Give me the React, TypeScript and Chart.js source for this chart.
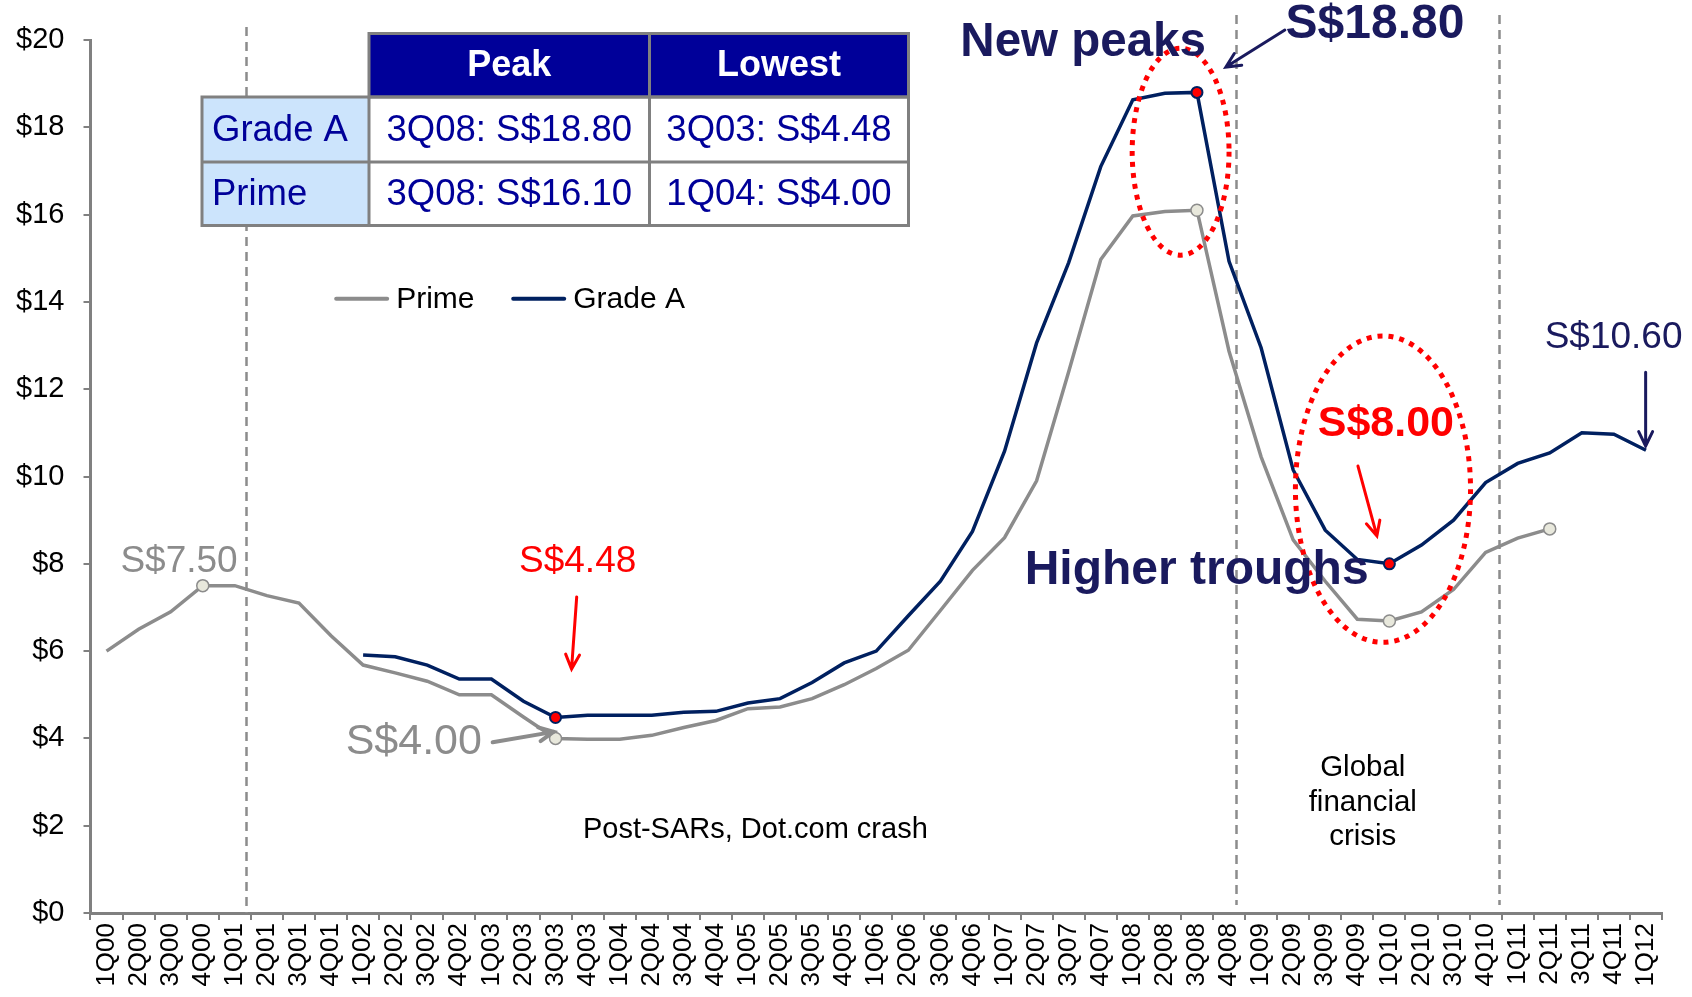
import React, { useEffect, useRef } from 'react';
import { Chart, registerables } from 'chart.js';

Chart.register(...registerables);

const FONT = '"Liberation Sans", Arial, Helvetica, sans-serif';

const quarters = [
  '1Q00', '2Q00', '3Q00', '4Q00', '1Q01', '2Q01', '3Q01', '4Q01',
  '1Q02', '2Q02', '3Q02', '4Q02', '1Q03', '2Q03', '3Q03', '4Q03',
  '1Q04', '2Q04', '3Q04', '4Q04', '1Q05', '2Q05', '3Q05', '4Q05',
  '1Q06', '2Q06', '3Q06', '4Q06', '1Q07', '2Q07', '3Q07', '4Q07',
  '1Q08', '2Q08', '3Q08', '4Q08', '1Q09', '2Q09', '3Q09', '4Q09',
  '1Q10', '2Q10', '3Q10', '4Q10', '1Q11', '2Q11', '3Q11', '4Q11',
  '1Q12',
];

const primeRents: (number | null)[] = [
  6.0, 6.5, 6.9, 7.5, 7.5, 7.27, 7.1, 6.35,
  5.68, 5.5, 5.31, 5.0, 5.0, 4.49, 4.0, 3.98,
  3.98, 4.07, 4.25, 4.41, 4.68, 4.72, 4.91, 5.23,
  5.6, 6.02, 6.93, 7.85, 8.6, 9.9, 12.4, 14.97,
  15.97, 16.07, 16.1, 12.87, 10.45, 8.55, 7.6, 6.73,
  6.69, 6.9, 7.41, 8.26, 8.59, 8.8, null, null,
  null,
];

const gradeARents: (number | null)[] = [
  null, null, null, null, null, null, null, null,
  5.91, 5.87, 5.68, 5.36, 5.36, 4.85, 4.48, 4.53,
  4.53, 4.53, 4.6, 4.62, 4.81, 4.91, 5.28, 5.73,
  6.0, 6.81, 7.6, 8.74, 10.58, 13.06, 14.9, 17.1,
  18.63, 18.78, 18.8, 14.93, 12.95, 10.15, 8.77, 8.1,
  8.0, 8.43, 9.0, 9.86, 10.3, 10.54, 11.0, 10.97,
  10.6,
];

const primeMarkers = [3, 14, 34, 40, 45];
const gradeAMarkers = [14, 34, 40];

// vertical dashed separators (in category index units)
const periodBreaks = [4.35, 35.22, 43.42];

// summary table
const tableHeaders = ['Peak', 'Lowest'];
const tableRowNames = ['Grade A', 'Prime'];
const tablePeak = ['3Q08: S$18.80', '3Q08: S$16.10'];
const tableLowest = ['3Q03: S$4.48', '1Q04: S$4.00'];

const PRIME_COLOR = '#8c8c8c';
const GRADEA_COLOR = '#002060';
const NAVY_TEXT = '#1a1a5e';
const RED = '#ff0000';

type Txt = { text: string; x: number; y: number; color: string; size: number; bold?: boolean };
const annotationTexts: Txt[] = [
  { text: 'S$7.50', x: 2.26, y: 8.04, color: PRIME_COLOR, size: 37 },
  { text: 'S$4.48', x: 14.69, y: 8.04, color: RED, size: 37 },
  { text: 'S$4.00', x: 9.58, y: 3.91, color: PRIME_COLOR, size: 43 },
  { text: 'Post-SARs, Dot.com crash', x: 20.23, y: 1.9, color: '#000000', size: 29 },
  { text: 'Global', x: 39.17, y: 3.32, color: '#000000', size: 29.5 },
  { text: 'financial', x: 39.17, y: 2.52, color: '#000000', size: 29.5 },
  { text: 'crisis', x: 39.17, y: 1.74, color: '#000000', size: 29.5 },
  { text: 'New peaks', x: 30.45, y: 19.93, color: NAVY_TEXT, size: 47.5, bold: true },
  { text: 'S$18.80', x: 39.55, y: 20.34, color: NAVY_TEXT, size: 48, bold: true },
  { text: 'Higher troughs', x: 33.99, y: 7.85, color: NAVY_TEXT, size: 48, bold: true },
  { text: 'S$8.00', x: 39.89, y: 11.2, color: RED, size: 43, bold: true },
  { text: 'S$10.60', x: 46.99, y: 13.17, color: NAVY_TEXT, size: 37 },
];

type Arrow = { x1: number; y1: number; x2: number; y2: number; color: string; width: number };
const annotationArrows: Arrow[] = [
  { x1: 14.66, y1: 7.24, x2: 14.5, y2: 5.59, color: RED, width: 3 },
  { x1: 12.04, y1: 3.91, x2: 13.94, y2: 4.15, color: PRIME_COLOR, width: 4 },
  { x1: 36.74, y1: 20.23, x2: 34.9, y2: 19.38, color: NAVY_TEXT, width: 3 },
  { x1: 39.02, y1: 10.24, x2: 39.61, y2: 8.64, color: RED, width: 3 },
  { x1: 47.99, y1: 12.39, x2: 47.99, y2: 10.7, color: NAVY_TEXT, width: 3 },
];

type Ell = { x: number; y: number; rx: number; ry: number };
const highlightEllipses: Ell[] = [
  { x: 33.49, y: 17.44, rx: 1.51, ry: 2.37 },
  { x: 39.8, y: 9.71, rx: 2.73, ry: 3.51 },
];

const overlayPlugin = {
  id: 'overlayPlugin',
  beforeDatasetsDraw(chart: any) {
    const { ctx, chartArea, scales } = chart;
    const x = scales.x;
    ctx.save();
    ctx.strokeStyle = '#8c8c8c';
    ctx.lineWidth = 2.5;
    ctx.setLineDash([9, 6]);
    periodBreaks.forEach((v, i) => {
      const px = Math.round(x.getPixelForValue(v)) + 0.5;
      const top = i === 0 ? chartArea.top - 13 : chartArea.top - 25;
      const bottom = i === 0 ? chartArea.bottom : chartArea.bottom - 8;
      ctx.beginPath();
      ctx.moveTo(px, top);
      ctx.lineTo(px, bottom);
      ctx.stroke();
    });
    ctx.restore();
  },
  afterDatasetsDraw(chart: any) {
    const { ctx, scales } = chart;
    const x = scales.x;
    const y = scales.y;
    const px = (v: number) => x.getPixelForValue(v);
    const py = (v: number) => y.getPixelForValue(v);
    const unitX = px(1) - px(0);
    const unitY = py(0) - py(1);

    ctx.save();
    // dotted ellipses
    ctx.strokeStyle = RED;
    ctx.lineWidth = 5;
    ctx.setLineDash([5, 6]);
    highlightEllipses.forEach((e) => {
      ctx.beginPath();
      ctx.ellipse(px(e.x), py(e.y), e.rx * unitX, e.ry * unitY, 0, 0, Math.PI * 2);
      ctx.stroke();
    });
    ctx.setLineDash([]);

    // arrows
    annotationArrows.forEach((a) => {
      const x1 = px(a.x1), y1 = py(a.y1), x2 = px(a.x2), y2 = py(a.y2);
      ctx.strokeStyle = a.color;
      ctx.lineWidth = a.width;
      ctx.lineCap = 'round';
      ctx.beginPath();
      ctx.moveTo(x1, y1);
      ctx.lineTo(x2, y2);
      const ang = Math.atan2(y2 - y1, x2 - x1);
      const hl = 16;
      ctx.moveTo(x2 - hl * Math.cos(ang - 0.45), y2 - hl * Math.sin(ang - 0.45));
      ctx.lineTo(x2, y2);
      ctx.lineTo(x2 - hl * Math.cos(ang + 0.45), y2 - hl * Math.sin(ang + 0.45));
      ctx.stroke();
    });

    // texts
    ctx.textAlign = 'center';
    ctx.textBaseline = 'middle';
    annotationTexts.forEach((t) => {
      ctx.font = `${t.bold ? 'bold ' : ''}${t.size}px ${FONT}`;
      ctx.fillStyle = t.color;
      ctx.fillText(t.text, px(t.x), py(t.y));
    });

    // legend
    const legendY = py(14.07);
    const legendItems = [
      { label: 'Prime', color: PRIME_COLOR, x: 7.16 },
      { label: 'Grade A', color: GRADEA_COLOR, x: 12.68 },
    ];
    ctx.font = `30px ${FONT}`;
    ctx.textAlign = 'left';
    legendItems.forEach((it) => {
      const lx = px(it.x);
      ctx.strokeStyle = it.color;
      ctx.lineWidth = 4;
      ctx.lineCap = 'round';
      ctx.beginPath();
      ctx.moveTo(lx, legendY);
      ctx.lineTo(lx + 51, legendY);
      ctx.stroke();
      ctx.fillStyle = '#000000';
      ctx.fillText(it.label, lx + 60, legendY + 1);
    });
    ctx.restore();
  },
  afterDraw(chart: any) {
    const { ctx } = chart;
    ctx.save();
    const colX = [202, 369, 649.5, 908.5];
    const rowY = [33.5, 97, 162, 225.5];
    // header
    ctx.fillStyle = '#000099';
    ctx.fillRect(colX[1], rowY[0], colX[3] - colX[1], rowY[1] - rowY[0]);
    ctx.fillStyle = '#cce4fc';
    ctx.fillRect(colX[0], rowY[1], colX[1] - colX[0], rowY[3] - rowY[1]);
    ctx.fillStyle = '#ffffff';
    ctx.fillRect(colX[1], rowY[1], colX[3] - colX[1], rowY[3] - rowY[1]);
    ctx.strokeStyle = '#808080';
    ctx.lineWidth = 3;
    ctx.strokeRect(colX[1], rowY[0], colX[3] - colX[1], rowY[1] - rowY[0]);
    ctx.strokeRect(colX[0], rowY[1], colX[3] - colX[0], rowY[3] - rowY[1]);
    ctx.beginPath();
    ctx.moveTo(colX[2], rowY[0]);
    ctx.lineTo(colX[2], rowY[3]);
    ctx.moveTo(colX[1], rowY[1]);
    ctx.lineTo(colX[1], rowY[3]);
    ctx.moveTo(colX[0], rowY[2]);
    ctx.lineTo(colX[3], rowY[2]);
    ctx.stroke();

    ctx.textBaseline = 'middle';
    ctx.textAlign = 'center';
    ctx.font = `bold 36px ${FONT}`;
    ctx.fillStyle = '#ffffff';
    tableHeaders.forEach((h, i) => {
      ctx.fillText(h, (colX[i + 1] + colX[i + 2]) / 2, (rowY[0] + rowY[1]) / 2 + 1);
    });
    ctx.font = `36.5px ${FONT}`;
    ctx.fillStyle = '#000099';
    tableRowNames.forEach((name, r) => {
      const cy = (rowY[r + 1] + rowY[r + 2]) / 2 + 1;
      ctx.textAlign = 'left';
      ctx.fillText(name, colX[0] + 10, cy);
      ctx.textAlign = 'center';
      ctx.fillText(tablePeak[r], (colX[1] + colX[2]) / 2, cy);
      ctx.fillText(tableLowest[r], (colX[2] + colX[3]) / 2, cy);
    });
    ctx.restore();
  },
};

export default function App() {
  const canvasRef = useRef<HTMLCanvasElement | null>(null);

  useEffect(() => {
    document.body.style.margin = '0';
    const canvas = canvasRef.current;
    if (!canvas) return;
    const chart = new Chart(canvas, {
      type: 'line',
      data: {
        labels: quarters,
        datasets: [
          {
            label: 'Prime',
            data: primeRents,
            borderColor: PRIME_COLOR,
            borderWidth: 3.5,
            tension: 0,
            spanGaps: false,
            pointRadius: (c: any) => (primeMarkers.includes(c.dataIndex) ? 6 : 0),
            pointHoverRadius: 0,
            pointBackgroundColor: '#e8e8dc',
            pointBorderColor: '#8c8c8c',
            pointBorderWidth: 1.5,
          },
          {
            label: 'Grade A',
            data: gradeARents,
            borderColor: GRADEA_COLOR,
            borderWidth: 3.5,
            tension: 0,
            spanGaps: false,
            pointRadius: (c: any) => (gradeAMarkers.includes(c.dataIndex) ? 5.5 : 0),
            pointHoverRadius: 0,
            pointBackgroundColor: RED,
            pointBorderColor: GRADEA_COLOR,
            pointBorderWidth: 2,
          },
        ],
      },
      options: {
        animation: false,
        responsive: false,
        devicePixelRatio: 1,
        layout: { padding: { top: 40, right: 30, left: 0, bottom: 0 } },
        plugins: {
          legend: { display: false },
          tooltip: { enabled: false },
        },
        scales: {
          x: {
            type: 'category',
            offset: true,
            afterFit: (s: any) => {
              s.height = 84;
            },
            grid: {
              drawOnChartArea: false,
              drawTicks: true,
              tickLength: 7,
              offset: true,
              color: '#808080',
              lineWidth: 2,
            },
            border: { color: '#808080', width: 3 },
            ticks: {
              autoSkip: false,
              minRotation: 90,
              maxRotation: 90,
              padding: 3,
              color: '#000000',
              font: { family: FONT, size: 26 },
            },
          },
          y: {
            min: 0,
            max: 20,
            afterFit: (s: any) => {
              s.width = 90.5;
            },
            grid: {
              drawOnChartArea: false,
              drawTicks: true,
              tickLength: 7,
              color: '#808080',
              lineWidth: 2,
            },
            border: { color: '#808080', width: 3 },
            ticks: {
              stepSize: 2,
              padding: 19,
              color: '#000000',
              font: { family: FONT, size: 29 },
              callback: (v: any) => '$' + v,
            },
          },
        },
      },
      plugins: [overlayPlugin],
    });
    return () => chart.destroy();
  }, []);

  return (
    <div style={{ position: 'absolute', left: 0, top: 0, width: 1692, height: 997, background: '#ffffff' }}>
      <canvas ref={canvasRef} width={1692} height={997} style={{ display: 'block' }} />
    </div>
  );
}
